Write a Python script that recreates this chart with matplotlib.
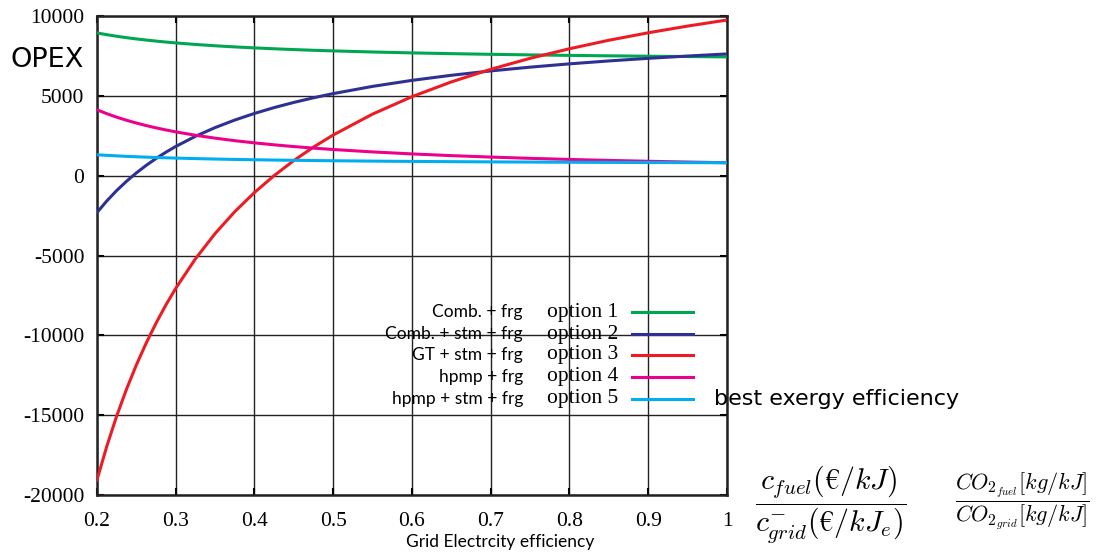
import matplotlib.pyplot as plt
from matplotlib.lines import Line2D

plt.rcParams["mathtext.fontset"] = "cm"

# Data
eff = [0.2, 0.2125, 0.225, 0.2375, 0.25, 0.2625, 0.275, 0.2875, 0.3, 0.325, 0.35, 0.375,
       0.4, 0.425, 0.45, 0.475, 0.5, 0.55, 0.6, 0.65, 0.7, 0.75, 0.8, 0.85, 0.9, 0.95, 1.0]
opt1 = [8940, 8830, 8732, 8644, 8565, 8494, 8429, 8369, 8315, 8219, 8136, 8065,
        8003, 7947, 7898, 7854, 7815, 7747, 7690, 7642, 7601, 7565, 7534, 7506, 7482, 7460, 7440]
opt2 = [-2311, -1581, -930, -350, 173, 646, 1076, 1470, 1829, 2466, 3012, 3485,
        3899, 4264, 4589, 4880, 5141, 5593, 5969, 6288, 6561, 6797, 7004, 7187, 7349, 7494, 7625]
opt3 = [-19058, -16940, -15057, -13372, -11856, -10484, -9236, -8097, -7055, -5209, -3625, -2253,
        -1053, 6, 949, 1792, 2548, 3858, 4949, 5874, 6663, 7350, 7950, 8482, 8950, 9370, 9750]
opt4 = [4126, 3882, 3665, 3471, 3297, 3139, 2996, 2864, 2744, 2532, 2350, 2192,
        2054, 1932, 1823, 1726, 1639, 1488, 1363, 1256, 1165, 1086, 1017, 956, 902, 854, 810]
opt5 = [1310, 1273, 1241, 1211, 1185, 1161, 1140, 1120, 1102, 1070, 1042, 1018,
        998, 979, 963, 948, 935, 912, 893, 877, 864, 852, 841, 832, 824, 817, 810]

series = [opt1, opt2, opt3, opt4, opt5]
colors = ["#00a651", "#2e3192", "#ed1c24", "#ec008c", "#00aeef"]
names = ["Comb. + frg", "Comb. + stm + frg", "GT + stm + frg", "hpmp + frg", "hpmp + stm + frg"]
labels = ["option 1", "option 2", "option 3", "option 4", "option 5"]

xticks = [0.2, 0.3, 0.4, 0.5, 0.6, 0.7, 0.8, 0.9, 1.0]
xticklabels = ["0.2", "0.3", "0.4", "0.5", "0.6", "0.7", "0.8", "0.9", "1"]
yticks = [-20000, -15000, -10000, -5000, 0, 5000, 10000]
yticklabels = ["-20000", "-15000", "-10000", "-5000", "0", "5000", "10000"]

fig = plt.figure(figsize=(11.02, 5.56), dpi=100)
ax = fig.add_axes([0.088, 0.1097, 0.5717, 0.8615])

for s, c in zip(series, colors):
    ax.plot(eff, s, color=c, lw=2.2, zorder=3)

ax.set_xlim(0.2, 1.0)
ax.set_ylim(-20000, 10000)
ax.set_xticks(xticks)
ax.set_xticklabels(xticklabels, family="Liberation Serif", fontsize=15.5)
ax.set_yticks(yticks)
ax.set_yticklabels(yticklabels, family="Liberation Serif", fontsize=15.5)
ax.tick_params(direction="in", length=5, width=1.5, top=True, right=True, pad=9)
ax.tick_params(axis="x", pad=12)
ax.grid(True, color="#222222", lw=1)
for sp in ax.spines.values():
    sp.set_linewidth(1.8)
    sp.set_color("#222222")

# legend drawn by hand
rows = [312, 334, 355, 377, 399]
for name, lab, c, yp in zip(names, labels, colors, rows):
    yf = 1 - yp / 556
    fig.text(523 / 1102, yf, name, ha="right", va="center", family="Lato", fontsize=12.5)
    fig.text(547 / 1102, yf, lab, ha="left", va="center", family="Liberation Serif", fontsize=15.5)
    fig.add_artist(Line2D([632 / 1102, 693 / 1102], [yf, yf], color=c, lw=2.2))

fig.text(714 / 1102, 1 - 399 / 556, "best exergy efficiency", ha="left", va="center",
         family="DejaVu Sans", fontsize=16)
fig.text(10 / 1102, 1 - 60 / 556, "OPEX", ha="left", va="center", family="DejaVu Sans", fontsize=19.5)
fig.text(500 / 1102, 1 - 542 / 556, "Grid Electrcity efficiency", ha="center", va="center",
         family="Lato", fontsize=12.5)

fig.text(831 / 1102, 1 - 505 / 556, r"$\dfrac{c_{fuel}(€/kJ)}{c^{-}_{grid}(€/kJ_e)}$",
         ha="center", va="center", fontsize=21.5)
fig.text(1022 / 1102, 1 - 501 / 556, r"$\dfrac{CO_{2_{fuel}}[kg/kJ]}{CO_{2_{grid}}[kg/kJ]}$",
         ha="center", va="center", fontsize=16)

fig.savefig("out.png", dpi=100)
